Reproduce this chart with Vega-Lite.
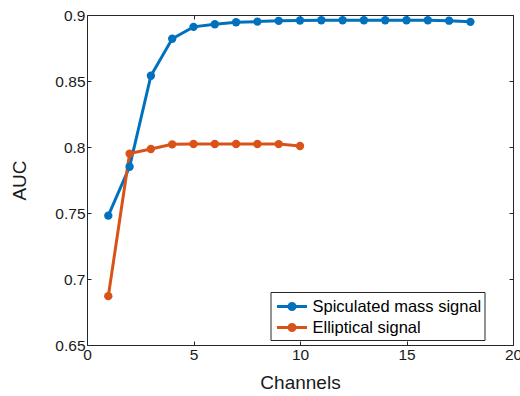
{
  "$schema": "https://vega.github.io/schema/vega-lite/v6.json",
  "width": 426,
  "height": 330,
  "autosize": "none",
  "padding": {"left": 87, "top": 15, "right": 7, "bottom": 51},
  "config": {
    "view": {"stroke": null},
    "font": "Liberation Sans",
    "axis": {
      "domainColor": "#262626",
      "domainWidth": 1,
      "tickColor": "#262626",
      "tickWidth": 1,
      "tickSize": -4,
      "labelColor": "#1a1a1a",
      "titleColor": "#1a1a1a",
      "labelFlush": false,
      "grid": false,
      "labelFontSize": 15.5,
      "titleFontSize": 19,
      "titleFontWeight": "normal"
    },
    "legend": {
      "title": null,
      "orient": "none",
      "legendX": 183.5,
      "legendY": 277,
      "fillColor": "white",
      "strokeColor": "#262626",
      "padding": 3,
      "rowPadding": 0,
      "labelFontSize": 16.5,
      "labelColor": "#000000",
      "labelLimit": 0,
      "labelOffset": 9,
      "symbolSize": 400,
      "symbolType": "M-1.5,0L1.5,0M-0.3,0A0.3,0.3,0,1,1,0.3,0A0.3,0.3,0,1,1,-0.3,0Z",
      "symbolStrokeWidth": 3,
      "symbolOffset": 7
    }
  },
  "data": {
    "values": [
      {"channels": 1, "auc": 0.748, "signal": "Spiculated mass signal"},
      {"channels": 2, "auc": 0.785, "signal": "Spiculated mass signal"},
      {"channels": 3, "auc": 0.854, "signal": "Spiculated mass signal"},
      {"channels": 4, "auc": 0.882, "signal": "Spiculated mass signal"},
      {"channels": 5, "auc": 0.891, "signal": "Spiculated mass signal"},
      {"channels": 6, "auc": 0.893, "signal": "Spiculated mass signal"},
      {"channels": 7, "auc": 0.8945, "signal": "Spiculated mass signal"},
      {"channels": 8, "auc": 0.895, "signal": "Spiculated mass signal"},
      {"channels": 9, "auc": 0.8956, "signal": "Spiculated mass signal"},
      {"channels": 10, "auc": 0.8958, "signal": "Spiculated mass signal"},
      {"channels": 11, "auc": 0.896, "signal": "Spiculated mass signal"},
      {"channels": 12, "auc": 0.896, "signal": "Spiculated mass signal"},
      {"channels": 13, "auc": 0.896, "signal": "Spiculated mass signal"},
      {"channels": 14, "auc": 0.896, "signal": "Spiculated mass signal"},
      {"channels": 15, "auc": 0.896, "signal": "Spiculated mass signal"},
      {"channels": 16, "auc": 0.896, "signal": "Spiculated mass signal"},
      {"channels": 17, "auc": 0.8957, "signal": "Spiculated mass signal"},
      {"channels": 18, "auc": 0.8948, "signal": "Spiculated mass signal"},
      {"channels": 1, "auc": 0.687, "signal": "Elliptical signal"},
      {"channels": 2, "auc": 0.795, "signal": "Elliptical signal"},
      {"channels": 3, "auc": 0.7985, "signal": "Elliptical signal"},
      {"channels": 4, "auc": 0.802, "signal": "Elliptical signal"},
      {"channels": 5, "auc": 0.8023, "signal": "Elliptical signal"},
      {"channels": 6, "auc": 0.8023, "signal": "Elliptical signal"},
      {"channels": 7, "auc": 0.8023, "signal": "Elliptical signal"},
      {"channels": 8, "auc": 0.8023, "signal": "Elliptical signal"},
      {"channels": 9, "auc": 0.8022, "signal": "Elliptical signal"},
      {"channels": 10, "auc": 0.8008, "signal": "Elliptical signal"}
    ]
  },
  "layer": [
    {
      "mark": {"type": "line", "strokeWidth": 3},
      "encoding": {
        "x": {"field": "channels", "type": "quantitative", "scale": {"domain": [0, 20], "padding": 0, "nice": false},
              "axis": {"values": [0, 5, 10, 15, 20], "title": "Channels", "labelPadding": 6, "titlePadding": 11}},
        "y": {"field": "auc", "type": "quantitative", "scale": {"domain": [0.65, 0.9], "padding": 0, "nice": false},
              "axis": {"values": [0.65, 0.7, 0.75, 0.8, 0.85, 0.9], "format": ".2~f", "title": "AUC", "labelPadding": 6, "titlePadding": 25}},
        "color": {
          "field": "signal", "type": "nominal",
          "scale": {"domain": ["Spiculated mass signal", "Elliptical signal"], "range": ["#0072BD", "#D95319"]},
          "legend": {
            "labelExpr": "datum.label == 'Spiculated mass signal' ? datum.label + '\u00a0\u00a0\u00a0\u00a0\u00a0' : datum.label",
            "encode": {
              "symbols": {
                "update": {
                  "fill": {"scale": "color", "field": "value"},
                  "stroke": {"scale": "color", "field": "value"},
                  "fillOpacity": {"value": 1},
                  "strokeWidth": {"value": 3}
                }
              }
            }
          }
        }
      }
    },
    {
      "mark": {"type": "point", "filled": true, "size": 70, "opacity": 1},
      "encoding": {
        "x": {"field": "channels", "type": "quantitative", "axis": null},
        "y": {"field": "auc", "type": "quantitative", "axis": null},
        "color": {
          "field": "signal", "type": "nominal",
          "legend": {
            "labelExpr": "datum.label == 'Spiculated mass signal' ? datum.label + '\u00a0\u00a0\u00a0\u00a0\u00a0' : datum.label",
            "encode": {
              "symbols": {
                "update": {
                  "fill": {"scale": "color", "field": "value"},
                  "stroke": {"scale": "color", "field": "value"},
                  "fillOpacity": {"value": 1},
                  "strokeWidth": {"value": 3}
                }
              }
            }
          }
        }
      }
    },
    {
      "mark": {"type": "point", "opacity": 0},
      "encoding": {
        "x": {"field": "channels", "type": "quantitative",
              "axis": {"orient": "top", "values": [0, 5, 10, 15, 20], "labels": false, "title": null}},
        "y": {"field": "auc", "type": "quantitative",
              "axis": {"orient": "right", "values": [0.65, 0.7, 0.75, 0.8, 0.85, 0.9], "labels": false, "title": null}}
      }
    }
  ],
  "resolve": {"axis": {"x": "independent", "y": "independent"}}
}
